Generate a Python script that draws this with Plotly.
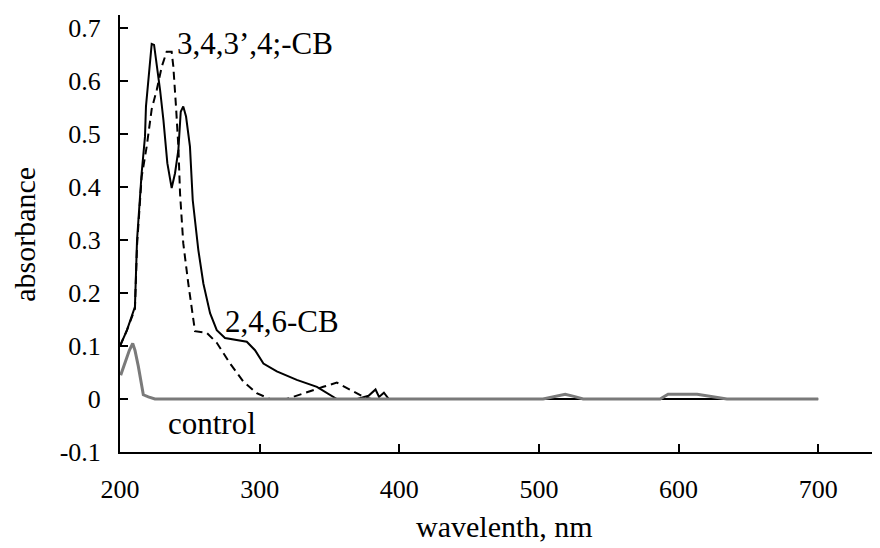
import plotly.graph_objects as go

# 2,4,6-CB (solid)
solid_x = [200, 205, 210.7, 212.2, 215.5, 217.9, 218.6, 221, 222.7, 224.4, 226.3, 228.7, 231.1,
           233.9, 237, 239.4, 241.8, 243.5, 245.3, 247.3, 250.1, 252.1, 256.1, 259.7, 264.5,
           269.3, 275.2, 283.6, 290.8, 296.7, 302.7, 312.3, 326.6, 341, 355.3, 370, 378,
           383, 385.5, 389, 392.5, 400, 700]
solid_y = [0.1, 0.13, 0.174, 0.300, 0.426, 0.495, 0.552, 0.627, 0.670, 0.668, 0.633, 0.583, 0.526,
           0.445, 0.398, 0.426, 0.470, 0.542, 0.552, 0.533, 0.476, 0.375, 0.281, 0.218, 0.162,
           0.130, 0.115, 0.111, 0.108, 0.092, 0.067, 0.052, 0.036, 0.023, 0.0, 0.0, 0.006,
           0.018, 0.004, 0.012, 0.0, 0.0, 0.0]

# 3,4,3',4'-CB (dashed)
dash_x = [200, 205, 210.7, 212.2, 215.5, 219.1, 222.7, 226.3, 229.9, 233.4, 237, 238.2, 240.1,
          241.8, 243, 245.3, 248.9, 251.3, 253.7, 262.1, 269.3, 278.8, 288.3, 297.9, 307.4,
          319.4, 331.3, 345.6, 355.3, 364.8, 374.3, 380, 700]
dash_y = [0.1, 0.13, 0.17, 0.29, 0.419, 0.476, 0.547, 0.583, 0.627, 0.655, 0.655, 0.627, 0.552,
          0.476, 0.388, 0.294, 0.218, 0.168, 0.128, 0.125, 0.106, 0.067, 0.033, 0.011, 0.0,
          0.0, 0.011, 0.023, 0.031, 0.017, 0.004, 0.0, 0.0]

# control (grey)
ctrl_x = [200.5, 203.6, 206.7, 209.1, 210.7, 213.1, 215.5, 216.7, 220.3, 225, 503, 510,
          518.8, 525, 531.7, 586.8, 592.5, 613.3, 634.6, 700]
ctrl_y = [0.045, 0.068, 0.092, 0.105, 0.092, 0.062, 0.023, 0.008, 0.004, 0.0, 0.0, 0.004,
          0.009, 0.005, 0.0, 0.0, 0.009, 0.009, 0.0, 0.0]

x_ticks = [200, 300, 400, 500, 600, 700]
y_ticks = [-0.1, 0, 0.1, 0.2, 0.3, 0.4, 0.5, 0.6, 0.7]
y_tick_text = ["-0.1", "0", "0.1", "0.2", "0.3", "0.4", "0.5", "0.6", "0.7"]

FONT = "Liberation Serif"

fig = go.Figure()
fig.add_trace(go.Scatter(x=dash_x, y=dash_y, mode="lines",
                         line=dict(color="black", width=2, dash="8px,5px"),
                         name="3,4,3',4'-CB"))
fig.add_trace(go.Scatter(x=solid_x, y=solid_y, mode="lines",
                         line=dict(color="black", width=2),
                         name="2,4,6-CB"))
fig.add_trace(go.Scatter(x=ctrl_x, y=ctrl_y, mode="lines",
                         line=dict(color="#7a7a7a", width=3),
                         name="control"))

fig.add_annotation(x=239.5, y=0.67, xref="x", yref="y", text="3,4,3’,4;-CB",
                   showarrow=False, xanchor="left", yanchor="middle",
                   font=dict(family=FONT, size=31, color="black"))
fig.add_annotation(x=274, y=0.146, xref="x", yref="y", text="2,4,6-CB",
                   showarrow=False, xanchor="left", yanchor="middle",
                   font=dict(family=FONT, size=31, color="black"))
fig.add_annotation(x=233, y=-0.047, xref="x", yref="y", text="control",
                   showarrow=False, xanchor="left", yanchor="middle",
                   font=dict(family=FONT, size=31, color="black"))

# axis titles (paper coords are relative to the plot area)
fig.add_annotation(x=0.5013, y=-0.1716, xref="paper", yref="paper",
                   text="wavelenth, nm", showarrow=False, xanchor="center", yanchor="middle",
                   font=dict(family=FONT, size=30, color="black"))
fig.add_annotation(x=-0.124, y=0.4989, xref="paper", yref="paper",
                   text="absorbance", showarrow=False, xanchor="center", yanchor="middle",
                   textangle=-90, borderpad=0,
                   font=dict(family=FONT, size=30, color="black"))

fig.update_layout(
    width=880, height=548, autosize=False,
    margin=dict(l=112, r=0, t=7, b=104),
    paper_bgcolor="white", plot_bgcolor="white",
    showlegend=False,
    font=dict(family=FONT, color="black"),
)
fig.update_xaxes(
    range=[200, 750], tickvals=x_ticks, ticktext=[str(v) for v in x_ticks],
    showline=True, linecolor="black", linewidth=2, mirror=False,
    ticks="inside", ticklen=8, tickwidth=2, tickcolor="black",
    showgrid=False, zeroline=False, automargin=False,
    tickfont=dict(family=FONT, size=26, color="black"), ticklabelstandoff=13,
)
fig.update_yaxes(
    range=[-0.1, 0.7245], tickvals=y_ticks, ticktext=y_tick_text,
    showline=True, linecolor="black", linewidth=2, mirror=False,
    ticks="inside", ticklen=8, tickwidth=2, tickcolor="black",
    showgrid=False, zeroline=False, automargin=False,
    tickfont=dict(family=FONT, size=26, color="black"), ticklabelstandoff=12,
)

fig.write_html("out.html")
